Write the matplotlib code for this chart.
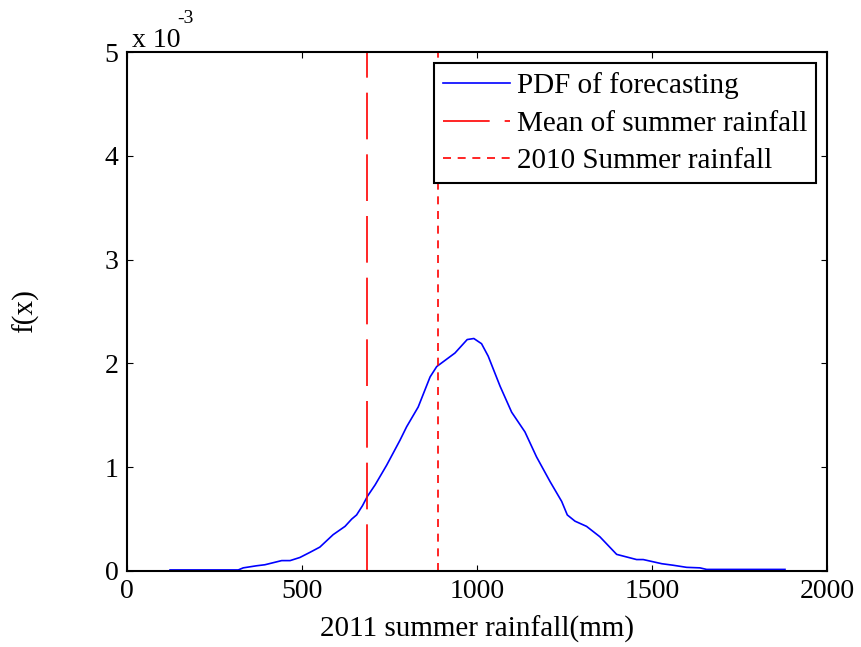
import numpy as np
import matplotlib
matplotlib.use("Agg")
import matplotlib.pyplot as plt

plt.rcParams['font.family'] = ['Liberation Serif', 'DejaVu Serif']

# forecast PDF of 2011 summer rainfall (f(x) in units of 1e-3)
rain_mm = [123, 200, 318, 332, 370, 394, 442, 466, 494, 523, 551, 589, 623, 642,
           656, 673, 687, 709, 742, 780, 799, 832, 866, 885, 909, 937, 972, 991,
           1013, 1032, 1066, 1099, 1137, 1170, 1209, 1242, 1258, 1280, 1313, 1351,
           1399, 1456, 1475, 1528, 1561, 1599, 1637, 1656, 1880]
pdf_e3 = [0.01, 0.01, 0.01, 0.03, 0.05, 0.06, 0.10, 0.10, 0.13, 0.18, 0.23, 0.35,
          0.43, 0.50, 0.54, 0.63, 0.72, 0.83, 1.02, 1.26, 1.39, 1.58, 1.87, 1.97,
          2.03, 2.10, 2.23, 2.24, 2.19, 2.07, 1.78, 1.53, 1.34, 1.10, 0.86, 0.67,
          0.54, 0.48, 0.43, 0.33, 0.16, 0.11, 0.11, 0.07, 0.055, 0.035, 0.03,
          0.015, 0.015]
mean_rain = 685
rain_2010 = 888

x_ticks = [0, 500, 1000, 1500, 2000]
y_ticks = [0, 1, 2, 3, 4, 5]

pdf = np.array(pdf_e3) * 1e-3

fig = plt.figure(figsize=(8.61, 6.47), dpi=100)
ax = fig.add_axes([0.1475, 0.1175, 0.813, 0.802])

ax.plot(rain_mm, pdf, color='#0000ff', lw=1.2, label='PDF of forecasting')
ax.axvline(mean_rain, color='red', lw=1.2, linestyle=(0, (28, 9)),
           label='Mean of summer rainfall')
ax.axvline(rain_2010, color='red', lw=1.2, linestyle=(0, (4.8, 4.0)),
           label='2010 Summer rainfall')

ax.set_xlim(0, 2000)
ax.set_ylim(0, 5e-3)
ax.set_xticks(x_ticks)
ax.set_xticklabels([str(t) for t in x_ticks])
ax.set_yticks(np.array(y_ticks) * 1e-3)
ax.set_yticklabels([str(t) for t in y_ticks])
ax.tick_params(direction='in', length=4, width=0.8, top=True, right=True,
               labelsize=20, pad=6)
for s in ax.spines.values():
    s.set_linewidth(1.5)

# exponent of the y axis
ax.text(0.007, 1.0096, 'x 10', transform=ax.transAxes, fontsize=20,
        ha='left', va='baseline')
ax.text(0.072, 1.056, '-3', transform=ax.transAxes, fontsize=14,
        ha='left', va='baseline')

ax.set_xlabel('2011 summer rainfall(mm)', fontsize=21, labelpad=8)
ax.set_ylabel('f(x)', fontsize=21, labelpad=47)

leg = ax.legend(loc='upper right', bbox_to_anchor=(0.985, 0.978),
                borderaxespad=0, fontsize=21, fancybox=False, framealpha=1,
                edgecolor='black', handlelength=2.3, handletextpad=0.25,
                labelspacing=0.38, borderpad=0.3)
leg.get_frame().set_linewidth(1.5)

fig.savefig('out.png', dpi=100)
